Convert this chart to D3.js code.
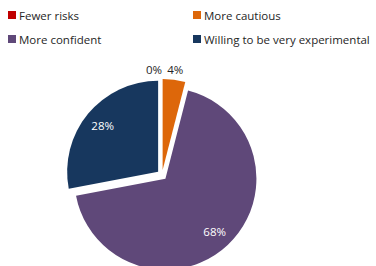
<!DOCTYPE html>
<html>
<head>
<meta charset="utf-8">
<script src="https://cdn.jsdelivr.net/npm/d3@7"></script>
<style>
  body { margin: 0; background: #fff; }
  svg { font-family: "Open Sans", "Liberation Sans", sans-serif; }
</style>
</head>
<body>
<svg id="pie-chart"></svg>
<script>
// Chart data
var categories = ["Fewer risks", "More cautious", "More confident", "Willing to be very experimental"];
var values = [0, 4, 68, 28];
var colors = ["#C00000", "#DD670A", "#5F4879", "#17375E"];

document.addEventListener('DOMContentLoaded', function () {
    var width = 376, height = 266;
    var svg = d3.select('#pie-chart')
        .attr("width", width)
        .attr("height", height);

    var data = categories.map(function (c, i) {
        return { name: c, value: values[i], color: colors[i] };
    });

    var radius = 91;
    var explode = 5;
    var cx = 162, cy = 175;

    var pie = d3.pie().sort(null).value(d => d.value);
    var arc = d3.arc().innerRadius(0).outerRadius(radius);

    var g = svg.append("g").attr("transform", `translate(${cx},${cy})`);

    // point along the slice's middle angle
    function offset(d, r) {
        var a = (d.startAngle + d.endAngle) / 2;
        return [Math.sin(a) * r, -Math.cos(a) * r];
    }

    var arcs = pie(data);

    g.selectAll("path")
        .data(arcs)
        .enter().append("path")
        .attr("d", arc)
        .attr("fill", d => d.data.color)
        .attr("transform", d => {
            var o = offset(d, explode);
            return `translate(${o[0]},${o[1]})`;
        });

    // Data labels: small slices outside, big ones inside
    g.selectAll("text.label")
        .data(arcs)
        .enter().append("text")
        .attr("class", "label")
        .attr("font-size", "11.5px")
        .attr("dominant-baseline", "central")
        .attr("text-anchor", d => d.value === 0 ? "end" : "middle")
        .attr("fill", d => d.data.value < 10 ? "#262626" : "#ffffff")
        .attr("x", d => d.data.value < 10 ? offset(d, 106)[0] : offset(d, 77)[0])
        .attr("y", d => d.data.value < 10 ? offset(d, 106)[1] : offset(d, 77)[1])
        .text(d => d.data.value + "%");

    // Legend
    var legendPos = [[8, 15], [193, 15], [8, 39], [193, 39]];
    var legend = svg.selectAll("g.legend")
        .data(data)
        .enter().append("g")
        .attr("class", "legend")
        .attr("transform", (d, i) => `translate(${legendPos[i][0]},${legendPos[i][1]})`);

    legend.append("rect")
        .attr("x", 0).attr("y", -4)
        .attr("width", 8).attr("height", 8)
        .attr("fill", d => d.color);

    legend.append("text")
        .attr("x", 11)
        .attr("y", 0)
        .attr("dominant-baseline", "central")
        .attr("font-size", "11.5px")
        .attr("fill", "#262626")
        .text(d => d.name);
});
</script>
</body>
</html>
